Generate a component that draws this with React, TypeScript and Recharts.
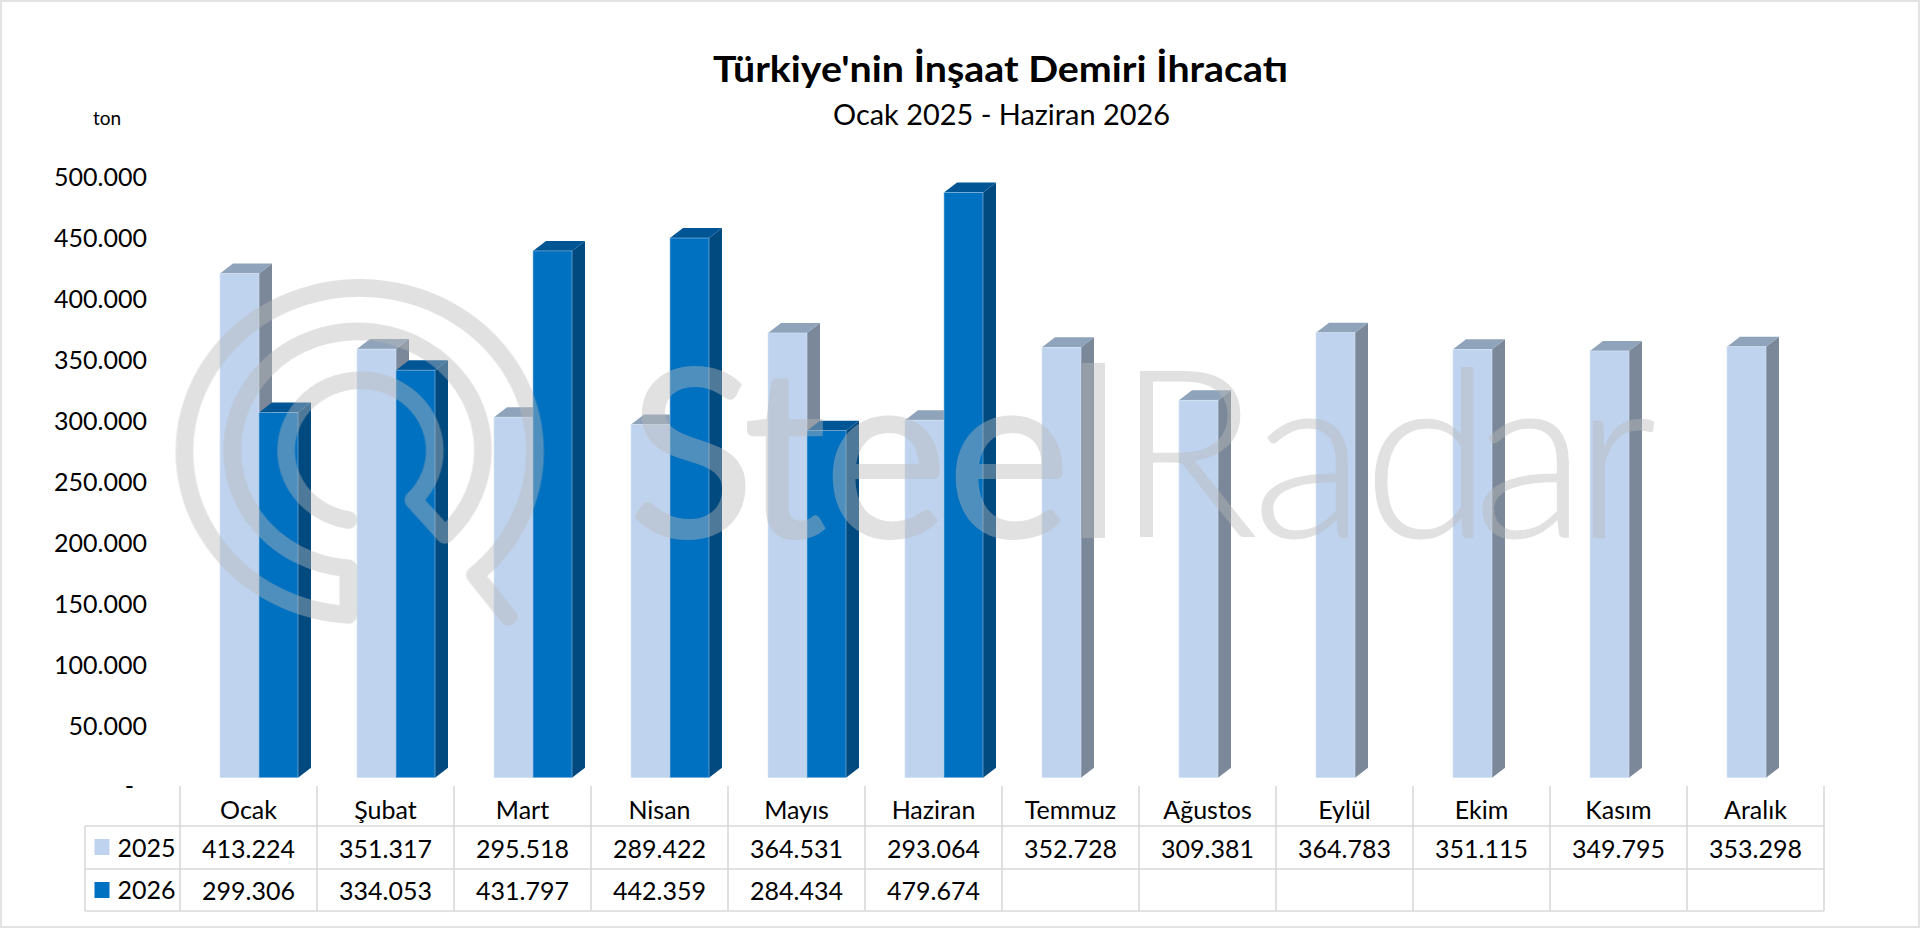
import React from 'react';
import { BarChart, Bar, XAxis, YAxis } from 'recharts';

const months = ['Ocak', 'Şubat', 'Mart', 'Nisan', 'Mayıs', 'Haziran', 'Temmuz', 'Ağustos', 'Eylül', 'Ekim', 'Kasım', 'Aralık'];
const values2025 = [413224, 351317, 295518, 289422, 364531, 293064, 352728, 309381, 364783, 351115, 349795, 353298];
const values2026: (number | null)[] = [299306, 334053, 431797, 442359, 284434, 479674, null, null, null, null, null, null];
const yTicks = [0, 50000, 100000, 150000, 200000, 250000, 300000, 350000, 400000, 450000, 500000];
const titleText = "Türkiye'nin İnşaat Demiri İhracatı";
const subtitleText = 'Ocak 2025 - Haziran 2026';
const unitText = 'ton';

const data = months.map((m, i) => ({ month: m, y2025: values2025[i], y2026: values2026[i] }));

const FONT = 'Lato, "Noto Sans", sans-serif';
const FS = 25;
const LINE = '#d9d9d9';
const LW = 1.6;
const ROW_TOP = 786;
const ROW_1 = 826;
const ROW_2 = 869;
const ROW_END = 911;
const COLS = 137;
const SHIFT = 10;
const DEPTH_X = 13;
const DEPTH_Y = 10;

const PALETTE = {
  light: { front: '#bfd3ee', side: '#7b8899', top: '#8fa3ba', edge: '#d5e3f5' },
  dark: { front: '#0070c0', side: '#004a80', top: '#005595', edge: '#8fbde0' },
};

const fmt = (v: number | null) => (v == null ? '' : (v / 1000).toFixed(3));

function Bar3D(props: any) {
  const { x, y, width, height, tone } = props;
  if (!height || height <= 0) return null;
  const c = (PALETTE as any)[tone];
  const r = x + width;
  const b = y + height;
  return (
    <g>
      <polygon points={`${r},${y} ${r + DEPTH_X},${y - DEPTH_Y} ${r + DEPTH_X},${b - DEPTH_Y} ${r},${b}`} fill={c.side} />
      <polygon points={`${x},${y} ${x + DEPTH_X},${y - DEPTH_Y} ${r + DEPTH_X},${y - DEPTH_Y} ${r},${y}`} fill={c.top} />
      <rect x={x} y={y} width={width} height={height} fill={c.front} stroke={c.edge} strokeWidth={0.6} />
    </g>
  );
}

function TableColumn(props: any) {
  const { x, index, payload } = props;
  const cx = x - SHIFT;
  const l = cx - COLS / 2;
  const r = cx + COLS / 2;
  const textProps = { x: cx, textAnchor: 'middle' as const, dominantBaseline: 'central' as const, fontFamily: FONT, fontSize: FS, fill: '#000' };
  return (
    <g>
      <line x1={r} x2={r} y1={ROW_TOP} y2={ROW_END} stroke={LINE} strokeWidth={LW} />
      {index === 0 && <line x1={l} x2={l} y1={ROW_TOP} y2={ROW_END} stroke={LINE} strokeWidth={LW} />}
      <text {...textProps} y={(ROW_TOP + ROW_1) / 2 + 3}>{payload.value}</text>
      <text {...textProps} y={(ROW_1 + ROW_2) / 2}>{fmt(values2025[index])}</text>
      <text {...textProps} y={(ROW_2 + ROW_END) / 2}>{fmt(values2026[index])}</text>
    </g>
  );
}

function YTick(props: any) {
  const { y, payload } = props;
  const zero = payload.value === 0;
  return (
    <text x={zero ? 134 : 147} y={y + (zero ? 7 : 8)} textAnchor="end" dominantBaseline="central" fontFamily={FONT} fontSize={FS} fill="#000">
      {zero ? '-' : fmt(payload.value)}
    </text>
  );
}

function Overlay() {
  return (
    <svg width={1920} height={928} style={{ position: 'absolute', left: 0, top: 0, pointerEvents: 'none' }}>
      <text x={1000.5} y={82} textAnchor="middle" fontFamily={FONT} fontWeight={700} fontSize={36} fill="#000" textLength={575} lengthAdjust="spacingAndGlyphs">{titleText}</text>
      <text x={1001.5} y={125} textAnchor="middle" fontFamily={FONT} fontSize={29} fill="#000" textLength={337} lengthAdjust="spacingAndGlyphs">{subtitleText}</text>
      <text x={107} y={117} textAnchor="middle" dominantBaseline="central" fontFamily={FONT} fontSize={19} fill="#000">{unitText}</text>

      {/* table frame and legend column */}
      <line x1={85} x2={1824} y1={ROW_1} y2={ROW_1} stroke={LINE} strokeWidth={LW} />
      <line x1={85} x2={1824} y1={ROW_2} y2={ROW_2} stroke={LINE} strokeWidth={LW} />
      <line x1={85} x2={1824} y1={ROW_END} y2={ROW_END} stroke={LINE} strokeWidth={LW} />
      <line x1={85} x2={85} y1={ROW_1} y2={ROW_END} stroke={LINE} strokeWidth={LW} />
      <rect x={94.5} y={839} width={15} height={16} fill={PALETTE.light.front} />
      <text x={117.5} y={847} dominantBaseline="central" fontFamily={FONT} fontSize={FS} fill="#000">2025</text>
      <rect x={94.5} y={882} width={15} height={16} fill={PALETTE.dark.front} />
      <text x={117.5} y={889} dominantBaseline="central" fontFamily={FONT} fontSize={FS} fill="#000">2026</text>

      {/* SteelRadar watermark, over the bars */}
      <g opacity={0.43}>
        <g transform="translate(150,260) scale(0.33333)" fill="none" stroke="#b8b8b8" strokeWidth={53} strokeLinecap="round" strokeLinejoin="round">
          <path d="M1075 1070 L975 945 A526 491 0 1 0 595 1065 L595 925 A376 356 0 1 1 885 825 L790 720 A223 211 0 1 0 595 780" />
        </g>
        <text x="628 743 824 947 1066" y={537} fontFamily="Lato, sans-serif" fontSize={234} fontWeight={400} fill="#b8b8b8" stroke="#b8b8b8" strokeWidth={2} strokeLinejoin="round">Steel</text>
        <text x="1116 1252 1363 1473 1574" y={537} fontFamily="Lato, sans-serif" fontSize={234} fontWeight={300} fill="#b8b8b8" stroke="#b8b8b8" strokeWidth={1} strokeLinejoin="round">Radar</text>
      </g>
    </svg>
  );
}

export default function App() {
  return (
    <div style={{ position: 'absolute', left: 0, top: 0, width: 1920, height: 928, background: '#fff', overflow: 'hidden' }}>
      <div style={{ position: 'absolute', inset: 0, border: '2px solid #e3e3e3', boxSizing: 'border-box' }} />
      <BarChart
        width={1920}
        height={928}
        data={data}
        margin={{ top: 167.7, right: 86, bottom: 149.3, left: 189 }}
        barSize={39}
        barGap={0}
        style={{ position: 'absolute', left: 0, top: 0 }}
      >
        <XAxis dataKey="month" height={1} axisLine={false} tickLine={false} interval={0} tick={<TableColumn />} />
        <YAxis width={1} domain={[0, 500000]} ticks={yTicks} axisLine={false} tickLine={false} interval={0} tick={<YTick />} />
        <Bar dataKey="y2025" name="2025" isAnimationActive={false} shape={<Bar3D tone="light" />} />
        <Bar dataKey="y2026" name="2026" isAnimationActive={false} shape={<Bar3D tone="dark" />} />
      </BarChart>
      <Overlay />
    </div>
  );
}
